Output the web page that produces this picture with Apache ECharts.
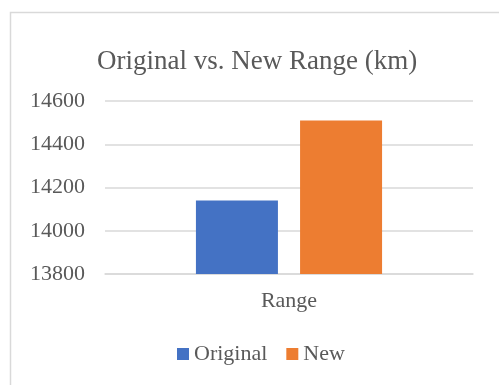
<!DOCTYPE html>
<html>
<head>
<meta charset="utf-8">
<script src="https://cdn.jsdelivr.net/npm/echarts@6/dist/echarts.min.js"></script>
<style>
  html, body { margin: 0; padding: 0; background: #fff; }
  #chart { width: 499px; height: 385px; }
</style>
</head>
<body>
<div id="chart"></div>
<script>
// Range comparison data (km)
const categories = ['Range'];
const originalValues = [14140];
const newValues = [14510];
const yTicks = [13800, 14000, 14200, 14400, 14600];

const serif = '"Liberation Serif", "Times New Roman", serif';
const textColor = '#595959';
const gridColor = '#d9d9d9';

const chart = echarts.init(document.getElementById('chart'), null, { renderer: 'canvas' });

chart.setOption({
  animation: false,
  backgroundColor: '#fff',
  textStyle: { fontFamily: serif, color: textColor },
  graphic: [{
    type: 'rect',
    shape: { x: 10.5, y: 12.5, width: 700, height: 700 },
    style: { fill: 'none', stroke: gridColor, lineWidth: 1.5 },
    silent: true,
    z: -1
  }],
  title: {
    text: 'Original vs. New Range (km)',
    left: 92,
    top: 43,
    textStyle: { fontFamily: serif, fontSize: 27, fontWeight: 'normal', color: textColor }
  },
  legend: {
    data: ['Original', 'New'],
    top: 338,
    left: 172,
    itemWidth: 12,
    itemHeight: 12,
    itemGap: 19,
    icon: 'rect',
    textStyle: { fontFamily: serif, fontSize: 22, color: textColor, padding: [0, 0, 0, 0] }
  },
  grid: { left: 105, right: 26, top: 101, bottom: 111, containLabel: false },
  xAxis: {
    type: 'category',
    data: categories,
    axisLine: { show: true, lineStyle: { color: gridColor, width: 1.5 } },
    axisTick: { show: false },
    axisLabel: { fontFamily: serif, fontSize: 22, color: textColor, margin: 16 }
  },
  yAxis: {
    type: 'value',
    min: yTicks[0],
    max: yTicks[yTicks.length - 1],
    interval: 200,
    axisLine: { show: false },
    axisTick: { show: false },
    splitLine: { lineStyle: { color: gridColor, width: 1.5 } },
    axisLabel: {
      fontFamily: serif, fontSize: 22, color: textColor, margin: 20,
      formatter: (v) => String(v)
    }
  },
  series: [
    {
      name: 'Original',
      type: 'bar',
      data: originalValues,
      barWidth: 82,
      barGap: '27%',
      itemStyle: { color: '#4472c4' }
    },
    {
      name: 'New',
      type: 'bar',
      data: newValues,
      barWidth: 82,
      itemStyle: { color: '#ed7d31' }
    }
  ]
});
</script>
</body>
</html>
